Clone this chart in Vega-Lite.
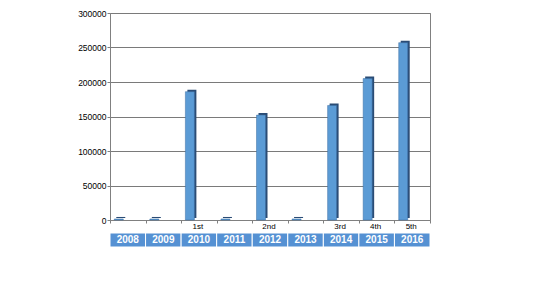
{
  "$schema": "https://vega.github.io/schema/vega-lite/v6.json",
  "padding": {"left": 77, "top": 8, "right": 0, "bottom": 0},
  "background": "white",
  "bounds": "flush",
  "spacing": 13,
  "data": {"values": [
    {"year": "2008", "value": 1500, "rank": ""},
    {"year": "2009", "value": 1500, "rank": ""},
    {"year": "2010", "value": 186000, "rank": "1st"},
    {"year": "2011", "value": 1500, "rank": ""},
    {"year": "2012", "value": 152000, "rank": "2nd"},
    {"year": "2013", "value": 1500, "rank": ""},
    {"year": "2014", "value": 166000, "rank": "3rd"},
    {"year": "2015", "value": 205000, "rank": "4th"},
    {"year": "2016", "value": 257000, "rank": "5th"}
  ]},
  "config": {
    "view": {"stroke": "#808080", "strokeWidth": 1},
    "font": "Liberation Sans"
  },
  "vconcat": [
    {
      "width": 320,
      "height": 207,
      "encoding": {
        "x": {"field": "year", "type": "nominal", "scale": {"paddingInner": 0, "paddingOuter": 0},
          "axis": {"labels": false, "title": null, "ticks": true, "tickBand": "extent", "tickSize": 3, "tickColor": "#808080", "domainColor": "#808080"}},
        "y": {"field": "value", "type": "quantitative", "scale": {"domain": [0, 300000]},
          "axis": {"title": null, "values": [0, 50000, 100000, 150000, 200000, 250000, 300000], "format": "d", "labelOverlap": false,
            "labelFontSize": 8.5, "labelColor": "#000", "labelPadding": 1, "tickSize": 3, "tickColor": "#808080", "domainColor": "#808080",
            "gridColor": "#7a7a7a", "gridOpacity": 1}}
      },
      "layer": [
        {
          "mark": {"type": "bar", "width": 9, "xOffset": -7, "yOffset": -2, "y2Offset": -2, "color": "#2b4c75"}
        },
        {
          "mark": {"type": "bar", "width": 9, "xOffset": -9, "color": "#5b9bd5", "stroke": "#3d6fa3", "strokeWidth": 0.5}
        },
        {
          "mark": {"type": "text", "baseline": "top", "dy": 3, "dx": -1, "fontSize": 8, "color": "#000"},
          "encoding": {"y": {"datum": 0, "type": "quantitative"}, "text": {"field": "rank"}}
        }
      ]
    },
    {
      "width": 320,
      "height": 14,
      "view": {"stroke": null},
      "encoding": {
        "x": {"field": "year", "type": "nominal", "scale": {"paddingInner": 0, "paddingOuter": 0}, "axis": null}
      },
      "layer": [
        {"mark": {"type": "rect", "color": "#5591d3", "stroke": "white", "strokeWidth": 1}, "encoding": {}},
        {"mark": {"type": "text", "color": "white", "fontSize": 10, "fontWeight": "bold"}, "encoding": {"text": {"field": "year"}}}
      ]
    }
  ]
}
